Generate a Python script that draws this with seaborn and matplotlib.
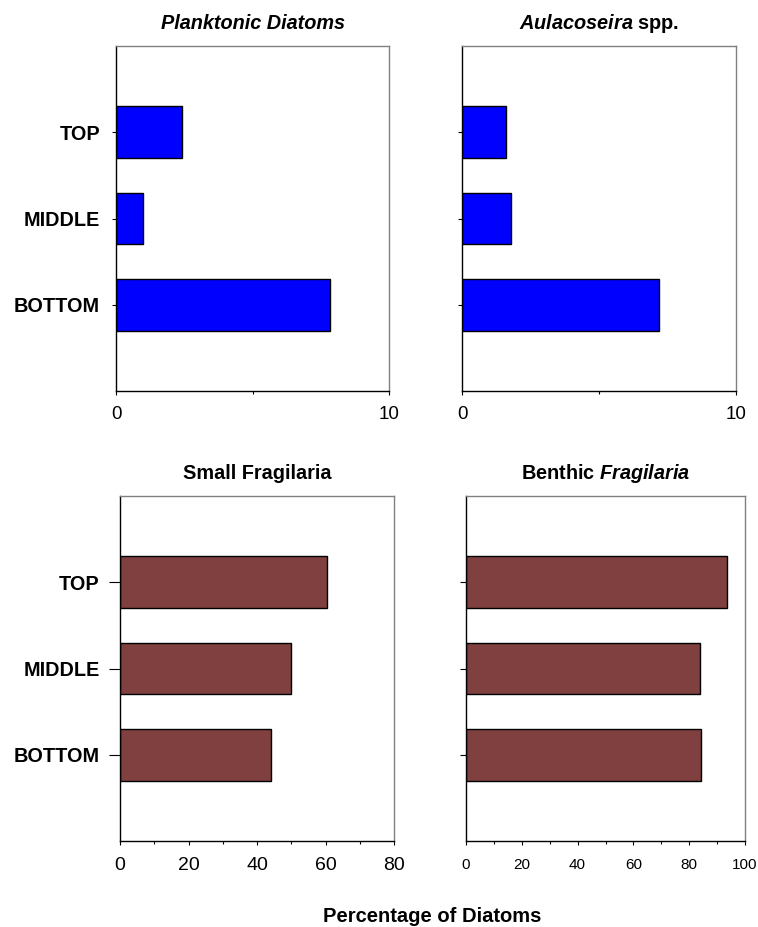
import matplotlib
matplotlib.use("Agg")
import matplotlib.pyplot as plt
from matplotlib.ticker import MultipleLocator
import seaborn as sns
import pandas as pd

sns.set_theme(style="white")
plt.rcParams["font.family"] = ["Liberation Sans", "DejaVu Sans"]
plt.rcParams["text.color"] = "black"
plt.rcParams["xtick.color"] = "black"
plt.rcParams["ytick.color"] = "black"
plt.rcParams["axes.labelcolor"] = "black"
plt.rcParams["mathtext.fontset"] = "custom"
plt.rcParams["mathtext.it"] = "Liberation Sans:bold:italic"
plt.rcParams["mathtext.rm"] = "Liberation Sans:bold"
plt.rcParams["mathtext.bf"] = "Liberation Sans:bold"

levels = ["TOP", "MIDDLE", "BOTTOM"]
planktonic = [2.4, 1.0, 7.85]
aulacoseira = [1.6, 1.8, 7.2]
small_fragilaria = [60.4, 49.9, 44.1]
benthic_fragilaria = [93.5, 83.9, 84.2]

BLUE = "#0000FF"
BROWN = "#804040"

W, H = 758, 927
fig = plt.figure(figsize=(W / 100, H / 100), dpi=100)


def axes_px(left, top, right, bottom):
    return fig.add_axes([left / W, 1 - bottom / H, (right - left) / W, (bottom - top) / H])


panels = [
    dict(box=(116, 46, 389, 391), vals=planktonic, color=BLUE,
         title="Planktonic Diatoms", italic=True, xmax=10, major=10, minor=5,
         labels=True, ytick_len=3, xfs=13.5, xpad=7.5, ypad=8.5),
    dict(box=(462, 46, 736, 391), vals=aulacoseira, color=BLUE,
         title=r"$\mathit{Aulacoseira}$ spp.", italic=False, xmax=10, major=10, minor=5,
         labels=False, ytick_len=3, xfs=13.5, xpad=7.5, ypad=8.5),
    dict(box=(120, 496, 394, 841), vals=small_fragilaria, color=BROWN,
         title="Small Fragilaria", italic=False, xmax=80, major=20, minor=10,
         labels=True, ytick_len=8, xfs=14, xpad=8.5, ypad=6.5),
    dict(box=(466, 496, 745, 841), vals=benthic_fragilaria, color=BROWN,
         title=r"Benthic $\mathit{Fragilaria}$", italic=False, xmax=100, major=20, minor=10,
         labels=False, ytick_len=4, xfs=11, xpad=9.5, ypad=6.5),
]

for p in panels:
    ax = axes_px(*p["box"])
    df = pd.DataFrame({"level": levels, "value": p["vals"]})
    sns.barplot(data=df, x="value", y="level", order=levels, orient="h",
                color=p["color"], saturation=1, width=0.6,
                edgecolor="black", linewidth=1.0, ax=ax)
    ax.set_xlim(0, p["xmax"])
    ax.set_ylim(3, -1)
    ax.set_xlabel("")
    ax.set_ylabel("")
    ax.xaxis.set_major_locator(MultipleLocator(p["major"]))
    ax.xaxis.set_minor_locator(MultipleLocator(p["minor"]))
    ax.tick_params(axis="x", which="major", direction="out", length=3, width=0.8,
                   color="black", labelcolor="black", labelsize=p["xfs"],
                   pad=p["xpad"], bottom=True)
    ax.tick_params(axis="x", which="minor", direction="out", length=2, width=0.8,
                   color="black", bottom=True)
    ax.tick_params(axis="y", which="major", direction="out", length=p["ytick_len"],
                   width=0.8, color="black", labelcolor="black", labelsize=14.3,
                   pad=p["ypad"], left=True)
    if p["labels"]:
        for t in ax.get_yticklabels():
            t.set_fontweight("bold")
    else:
        ax.set_yticklabels([])
    for side in ("left", "bottom"):
        ax.spines[side].set_color("black")
        ax.spines[side].set_linewidth(1.0)
    for side in ("top", "right"):
        ax.spines[side].set_color("#808080")
        ax.spines[side].set_linewidth(1.0)
        ax.spines[side].set_visible(True)
    ax.set_title(p["title"], fontsize=14.3, fontweight="bold", color="black",
                 fontstyle="italic" if p["italic"] else "normal", pad=12)

fig.text(432 / W, 1 - 916 / H, "Percentage of Diatoms", ha="center", va="center",
         fontsize=14.5, fontweight="bold", color="black")

fig.savefig("out.png", dpi=100, facecolor="white")
